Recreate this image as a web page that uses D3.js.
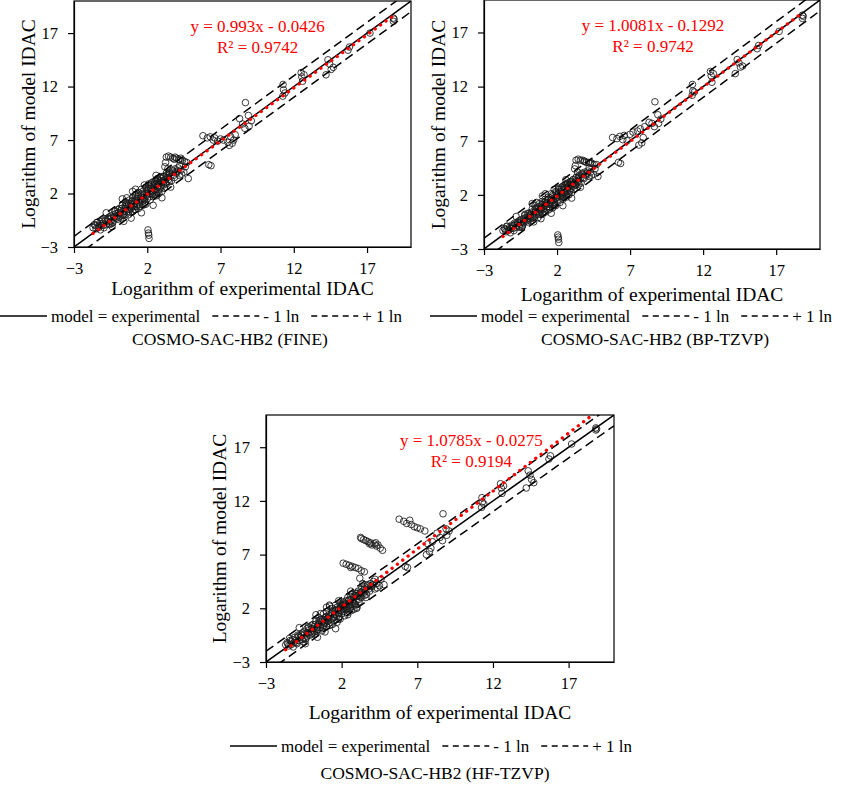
<!DOCTYPE html>
<html>
<head>
<meta charset="utf-8">
<script src="https://cdn.jsdelivr.net/npm/d3@7"></script>
<style>
body { margin: 0; background: #fff; }
svg text { font-family: "Liberation Serif", "Times New Roman", serif; }
</style>
</head>
<body>
<div id="chart"></div>
<script>
// experimental ln(IDAC), one entry per data point (same compounds in every panel)
const expIDAC = [
  -1.7,-1.6,-1.5,-1.4,-1.3,-1.2,-1.1,-1.0,-0.9,-0.8,-0.7,-0.6,-0.5,-0.5,-0.4,-0.3,-0.3,-0.2,-0.1,0.0,
  0.0,0.1,0.2,0.2,0.3,0.4,0.4,0.5,0.5,0.6,0.7,0.7,0.8,0.8,0.9,1.0,1.0,1.1,1.1,1.2,
  1.2,1.3,1.3,1.4,1.4,1.5,1.5,1.6,1.6,1.7,1.7,1.8,1.8,1.9,1.9,2.0,2.0,2.05,2.08,2.1,
  2.12,2.1,2.2,2.2,2.3,2.3,2.4,2.4,2.5,2.5,2.6,2.6,2.7,2.7,2.8,2.8,2.9,2.9,3.0,3.0,
  3.1,3.1,3.2,3.3,3.3,3.4,3.5,3.5,3.6,3.7,3.8,3.9,4.0,4.1,4.2,4.3,4.5,4.6,4.8,1.0,
  0.3,-0.8,1.6,2.4,3.0,3.6,0.9,3.3,3.45,3.6,3.75,3.9,4.0,4.15,4.3,4.4,4.55,4.7,3.25,3.2,3.85,4.25,
  2.1,2.3,2.5,2.7,2.9,3.1,3.3,3.5,2.6,
  5.8,6.1,6.3,6.5,6.6,6.8,7.0,7.2,7.5,7.7,7.8,7.9,8.0,7.6,6.2,6.35,
  8.3,8.66,8.9,8.95,9.1,8.7,8.5,11.27,11.3,11.25,11.4,12.5,12.55,12.6,12.7,14.2,14.33,14.45,14.55,14.7,15.7,15.8,17.2,18.8,18.8,18.85,
  -1.55,-1.35,-1.25,-1.05,-0.95,-0.75,-0.65,-0.55,-0.45,-0.35,-0.25,-0.15,-0.05,0.05,0.15,0.25,0.35,0.45,0.55,0.65,
  0.75,0.85,0.95,1.05,1.15,1.25,1.35,1.45,1.55,1.65,1.75,1.85,1.95,2.05,2.15,2.25,2.35,2.45,2.55,2.65,
  2.75,2.85,2.95,3.05,3.15,3.25,3.45,3.65,3.85,4.05,4.35,
  -1.45,-1.15,-0.85,-0.6,-0.4,-0.2,0.0,0.2,0.35,0.5,0.6,0.75,0.9,1.0,1.15,1.3,1.4,1.55,1.7,1.8,
  1.95,2.1,2.2,2.35,2.5,2.6,2.75,2.9,3.0,3.15,3.3,3.5,3.7,3.95,4.2,0.6,1.2,1.8,2.6,3.4
]

// model ln(IDAC), COSMO-SAC-HB2 (FINE)
const fineIDAC = [
  -1.2,-0.9,-1.3,-0.7,-1.0,-1.4,-0.6,-1.0,-0.4,-0.9,-0.3,-0.8,-0.1,-0.6,-1.1,0.0,-0.5,0.3,-0.3,0.2,
  -0.4,0.6,-0.1,0.4,0.9,0.1,-0.6,0.6,1.2,0.3,0.9,0.0,1.4,0.5,1.0,0.3,1.6,0.8,1.2,0.5,
  1.9,1.0,1.5,0.6,2.1,1.2,0.8,1.7,2.4,1.3,0.9,1.9,1.4,2.6,1.0,2.0,1.5,-1.4,-1.7,-1.9,
  -2.2,2.5,2.0,1.4,2.8,2.2,1.7,3.1,2.4,1.9,2.9,2.1,3.3,2.6,2.0,3.0,3.5,2.5,3.0,2.2,
  3.6,2.8,3.3,3.9,2.9,3.5,3.1,4.0,3.6,4.1,3.7,4.3,3.9,4.4,3.7,4.2,4.0,4.5,3.4,2.2,
  1.5,0.2,0.2,0.9,1.6,2.6,-0.3,5.4,5.5,5.4,5.3,5.4,5.3,5.2,5.3,5.1,5.0,4.9,4.9,4.5,5.2,5.1,
  2.9,3.0,3.1,3.4,3.5,3.6,3.7,3.9,3.2,
  7.4,7.2,7.3,7.0,7.2,6.9,7.1,7.0,6.8,7.3,6.7,7.0,7.5,6.5,4.7,4.6,
  9.0,8.1,9.3,8.3,8.8,10.5,8.5,12.2,11.7,11.1,11.4,13.3,12.9,12.5,13.1,13.1,14.5,14.1,13.6,13.8,15.4,15.7,17.0,18.4,18.1,18.3,
  -1.0,-1.2,-0.8,-0.8,-1.2,-0.6,-0.4,-0.9,-0.3,-0.7,-0.2,0.1,-0.1,-0.2,0.2,0.6,0.3,0.0,0.8,0.5,
  1.1,0.7,1.3,1.0,0.5,1.3,1.7,1.0,1.4,2.0,1.6,1.2,1.8,2.3,1.7,2.5,2.0,2.7,2.3,1.8,
  2.9,2.4,2.7,3.2,2.5,3.0,3.3,3.2,3.5,4.1,3.8,
  -0.7,-1.0,-0.5,-0.2,-0.8,0.4,0.5,-0.3,0.0,0.9,1.0,0.3,0.6,1.3,1.5,0.8,1.8,1.9,2.2,1.0,
  2.4,2.7,2.3,1.9,2.9,3.2,2.2,3.2,3.4,3.1,3.5,3.8,4.2,4.0,4.6,1.6,2.4,2.8,3.7,4.3
]

// model ln(IDAC), COSMO-SAC-HB2 (BP-TZVP)
const bpIDAC = [
  -1.3,-1.1,-1.4,-0.9,-1.2,-1.5,-0.8,-1.1,-0.6,-1.0,-0.5,-0.9,-0.3,-0.7,-1.0,-0.2,-0.6,0.1,-0.4,0.0,
  -0.5,0.3,-0.2,0.2,0.7,0.0,-0.5,0.4,1.0,0.2,0.7,-0.1,1.2,0.4,0.8,0.2,1.4,0.7,1.0,0.4,
  1.6,0.9,1.3,0.6,1.8,1.1,0.7,1.5,2.1,1.2,0.8,1.7,1.3,2.3,1.0,1.8,1.4,-1.7,-1.9,-2.1,
  -2.4,2.2,1.9,1.3,2.5,2.0,1.6,2.8,2.2,1.8,2.6,2.0,3.0,2.4,2.0,2.8,3.2,2.4,2.9,2.2,
  3.4,2.8,3.1,3.6,2.9,3.3,3.0,3.8,3.5,3.9,3.6,4.1,3.8,4.2,3.7,4.1,3.9,4.4,3.7,1.9,
  1.2,0.0,0.3,1.0,1.7,2.7,-0.2,5.2,5.3,5.2,5.2,5.1,5.0,5.0,5.0,4.9,4.8,4.8,4.7,4.4,5.1,4.9,
  2.6,2.7,2.9,3.1,3.2,3.4,3.6,3.7,3.0,
  7.3,7.2,7.4,7.1,7.5,7.0,7.6,7.8,7.9,8.1,6.8,7.3,8.3,6.6,5.0,4.9,
  8.7,8.3,9.4,8.6,9.0,10.6,8.6,12.2,11.6,11.2,11.5,13.4,13.0,12.4,13.2,13.2,14.5,14.2,13.8,13.9,15.5,15.8,17.1,18.6,18.3,18.5,
  -1.2,-1.3,-1.0,-0.9,-1.3,-0.8,-0.6,-1.0,-0.5,-0.8,-0.3,-0.1,-0.2,-0.3,0.1,0.4,0.2,-0.1,0.6,0.4,
  0.9,0.6,1.1,0.9,0.5,1.2,1.5,0.9,1.3,1.8,1.5,1.1,1.7,2.1,1.6,2.3,1.9,2.5,2.2,1.8,
  2.7,2.3,2.6,3.0,2.5,2.9,3.2,3.1,3.5,4.0,3.8,
  -0.9,-1.1,-0.7,-0.4,-0.9,0.2,0.3,-0.4,-0.1,0.7,0.8,0.2,0.5,1.1,1.3,0.7,1.6,1.7,2.0,1.0,
  2.2,2.5,2.1,1.8,2.7,3.0,2.1,3.0,3.2,3.0,3.3,3.6,4.0,3.9,4.5,1.3,2.1,2.5,3.4,4.1
]

// model ln(IDAC), COSMO-SAC-HB2 (HF-TZVP)
const hfIDAC = [
  -1.4,-1.2,-1.5,-1.0,-1.1,-1.6,-0.7,-1.2,-0.5,-1.0,-0.4,-0.9,-0.2,-0.8,-1.3,0.1,-0.6,0.2,-0.5,0.1,
  -0.4,0.5,-0.2,0.3,0.8,0.0,-0.7,0.5,1.1,0.2,0.8,-0.1,1.5,0.4,0.9,0.3,1.7,0.8,1.1,0.4,
  2.2,1.0,1.5,0.5,2.0,1.2,0.9,1.8,2.3,1.3,0.7,1.9,1.5,2.4,1.0,2.1,1.5,2.2,1.9,2.4,
  2.0,2.5,2.0,1.3,2.7,2.2,1.6,3.0,2.4,2.0,2.8,2.1,3.3,2.6,1.9,3.0,3.4,2.4,3.1,2.1,
  3.6,2.8,3.4,3.8,3.0,3.6,3.2,4.0,3.7,4.1,3.8,4.3,4.0,4.5,3.8,4.3,4.1,4.7,4.2,2.1,
  1.4,0.2,0.1,1.4,2.0,3.0,-0.2,8.5,8.4,8.3,8.2,8.1,7.9,8.0,7.8,7.9,7.6,7.4,8.6,4.8,8.0,8.1,
  6.2,6.1,6.0,5.9,5.8,5.7,5.5,5.4,5.8,
  10.3,10.1,9.9,10.2,9.8,9.6,9.5,9.4,9.2,8.0,7.3,7.6,8.2,7.0,5.9,5.8,
  9.0,8.3,9.4,8.8,9.2,10.8,8.6,12.3,11.9,11.4,11.7,13.6,13.2,12.7,13.4,13.2,14.8,14.4,14.0,13.7,15.9,16.2,17.3,18.6,18.8,18.7,
  -1.3,-1.4,-0.9,-1.0,-1.3,-0.7,-0.5,-1.1,-0.4,-0.8,-0.3,0.0,-0.2,-0.3,0.1,0.5,0.2,0.0,0.7,0.5,
  1.0,0.6,1.2,1.0,0.6,1.3,1.6,1.1,1.4,1.9,1.6,1.2,1.8,2.3,1.7,2.4,2.0,2.7,2.3,1.8,
  2.8,2.4,2.7,3.2,2.6,3.1,3.4,3.3,3.6,4.2,3.9,
  -0.8,-1.2,-0.6,-0.3,-0.9,0.3,0.4,-0.4,-0.1,0.8,0.9,0.2,0.6,1.2,1.4,0.7,1.7,1.8,2.1,1.0,
  2.3,2.6,2.3,1.9,2.8,3.1,2.2,3.2,3.4,3.2,3.5,3.8,4.2,4.1,4.7,1.5,2.3,2.7,3.6,4.3
]

const tickValues = [-3, 2, 7, 12, 17]
const modelNames = ["COSMO-SAC-HB2 (FINE)", "COSMO-SAC-HB2 (BP-TZVP)", "COSMO-SAC-HB2 (HF-TZVP)"]
const slopes = [0.993, 1.0081, 1.0785]
const intercepts = [-0.0426, -0.1292, -0.0275]
const eqLabels = ["y = 0.993x - 0.0426", "y = 1.0081x - 0.1292", "y = 1.0785x - 0.0275"]
const r2Labels = ["R² = 0.9742", "R² = 0.9742", "R² = 0.9194"]
const modelData = [fineIDAC, bpIDAC, hfIDAC]

// page layout for the three panels
const layout = [
  { left: 74, top: 1, w: 337, h: 246, yLabX: 28, xLabY: 288, legX: 0, legY: 316, subX: 230, subY: 339, eqX: 0.545 },
  { left: 484, top: 0, w: 336, h: 249, yLabX: 438, xLabY: 294, legX: 430, legY: 316, subX: 655, subY: 339, eqX: 0.503 },
  { left: 266, top: 415, w: 348, h: 247, yLabX: 219, xLabY: 712, legX: 230, legY: 746, subX: 435, subY: 773, eqX: 0.59 }
]

const svg = d3.select("#chart")
  .append("svg")
  .attr("width", 843)
  .attr("height", 788)

layout.forEach((p, k) => {
  const yVals = modelData[k]
  const n = Math.min(expIDAC.length, yVals.length)
  const points = d3.range(n).map(i => ({ x: expIDAC[i], y: yVals[i] }))

  const x = d3.scaleLinear().domain([-3, 20]).range([0, p.w])
  const y = d3.scaleLinear().domain([-3, 20]).range([p.h, 0])

  const g = svg.append("g").attr("transform", `translate(${p.left},${p.top})`)

  g.append("clipPath").attr("id", "clip" + k)
    .append("rect").attr("width", p.w).attr("height", p.h)

  const plot = g.append("g").attr("clip-path", `url(#clip${k})`)

  plot.selectAll("circle")
    .data(points)
    .join("circle")
    .attr("cx", d => x(d.x))
    .attr("cy", d => y(d.y))
    .attr("r", 3.3)
    .attr("fill", "none")
    .attr("stroke", "#1a1a1a")
    .attr("stroke-width", 0.85)

  // y = x and +/- 1 ln
  const refLines = [
    { off: 0, dash: null },
    { off: 1, dash: "9,5" },
    { off: -1, dash: "9,5" }
  ]
  refLines.forEach(r => {
    plot.append("line")
      .attr("x1", x(-3)).attr("y1", y(-3 + r.off))
      .attr("x2", x(20)).attr("y2", y(20 + r.off))
      .attr("stroke", "#000")
      .attr("stroke-width", 1.5)
      .attr("stroke-dasharray", r.dash)
  })

  // linear trend line
  const xmin = d3.min(points, d => d.x), xmax = d3.max(points, d => d.x)
  plot.append("line")
    .attr("x1", x(xmin)).attr("y1", y(slopes[k] * xmin + intercepts[k]))
    .attr("x2", x(xmax)).attr("y2", y(slopes[k] * xmax + intercepts[k]))
    .attr("stroke", "#ff0000")
    .attr("stroke-width", 3.3)
    .attr("stroke-linecap", "round")
    .attr("stroke-dasharray", "0.1,6.6")

  g.append("rect")
    .attr("width", p.w).attr("height", p.h)
    .attr("fill", "none").attr("stroke", "#000").attr("stroke-width", 1.2)

  const yAxis = g.append("g")
    .call(d3.axisLeft(y).tickValues(tickValues).tickSize(6).tickSizeOuter(0).tickPadding(10))
  const xAxis = g.append("g")
    .attr("transform", `translate(0,${p.h})`)
    .call(d3.axisBottom(x).tickValues(tickValues).tickSize(6).tickSizeOuter(0).tickPadding(9))
  ;[yAxis, xAxis].forEach(a => {
    a.attr("font-family", null).attr("font-size", null)
    a.select(".domain").attr("stroke-width", 1.2)
    a.selectAll("line").attr("stroke-width", 1.2)
    a.selectAll("text").style("font-size", "16.5px").attr("fill", "#000")
  })

  g.append("text")
    .attr("transform", `translate(${p.yLabX - p.left},${p.h / 2}) rotate(-90)`)
    .attr("text-anchor", "middle")
    .attr("dominant-baseline", "central")
    .style("font-size", "19.5px")
    .text("Logarithm of model IDAC")

  svg.append("text")
    .attr("x", p.left + p.w / 2).attr("y", p.xLabY)
    .attr("text-anchor", "middle")
    .attr("dominant-baseline", "central")
    .style("font-size", "19.5px")
    .text("Logarithm of experimental IDAC")

  // regression equation
  g.append("text")
    .attr("x", p.w * p.eqX).attr("y", 25)
    .attr("text-anchor", "middle").attr("dominant-baseline", "central")
    .attr("fill", "#ff0000").style("font-size", "17px")
    .text(eqLabels[k])
  g.append("text")
    .attr("x", p.w * p.eqX).attr("y", 46)
    .attr("text-anchor", "middle").attr("dominant-baseline", "central")
    .attr("fill", "#ff0000").style("font-size", "17px")
    .text(r2Labels[k])

  // legend row
  const leg = svg.append("g")
  let lx = p.legX
  const addSym = dash => {
    leg.append("line")
      .attr("x1", lx).attr("x2", lx + 47)
      .attr("y1", p.legY).attr("y2", p.legY)
      .attr("stroke", "#000").attr("stroke-width", 1.3)
      .attr("stroke-dasharray", dash)
    lx += 51
  }
  const addText = (s, gap) => {
    const t = leg.append("text")
      .attr("x", lx).attr("y", p.legY)
      .attr("dominant-baseline", "central")
      .style("font-size", "17px")
      .text(s)
    lx += t.node().getComputedTextLength() + gap
  }
  addSym(null)
  addText("model = experimental", 12)
  addSym("6,4.5")
  addText("- 1 ln", 12)
  addSym("6,4.5")
  addText("+ 1 ln", 0)

  svg.append("text")
    .attr("x", p.subX).attr("y", p.subY)
    .attr("text-anchor", "middle")
    .attr("dominant-baseline", "central")
    .style("font-size", "17.5px")
    .text(modelNames[k])
})
</script>
</body>
</html>
